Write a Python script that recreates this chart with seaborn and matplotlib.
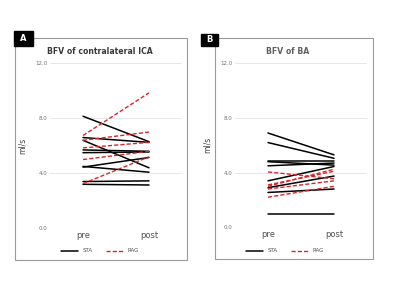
import numpy as np
import pandas as pd
import matplotlib
matplotlib.use("Agg")
import matplotlib.pyplot as plt
import seaborn as sns
from matplotlib.patches import Rectangle
from matplotlib.lines import Line2D

# ============================================================
# Donnees
# ============================================================
times = ["pre", "post"]
groups = ["STA", "RAG"]

# Panel A - BFV of contralateral ICA
a_sta_pre = [8.15, 6.6, 6.4, 5.7, 5.5, 4.5, 4.45, 3.4, 3.2]
a_sta_post = [6.3, 6.25, 4.4, 5.6, 5.55, 4.08, 5.15, 3.45, 3.15]
a_rag_pre = [6.75, 3.25, 6.4, 5.85, 5.0]
a_rag_post = [9.85, 5.2, 7.0, 6.25, 5.6]

# Panel B - BFV of BA
b_sta_pre = [6.9, 6.2, 4.85, 4.8, 4.5, 3.4, 2.9, 2.55, 1.0]
b_sta_post = [5.3, 5.05, 4.85, 4.55, 4.7, 4.45, 3.75, 2.8, 1.0]
b_rag_pre = [4.05, 3.0, 2.8, 2.2, 3.1]
b_rag_post = [3.55, 4.25, 3.4, 3.0, 4.1]

yticks = [0, 4, 8, 12]
ytick_labels = ["0.0", "4.0", "8.0", "12.0"]
titles = ["BFV of contralateral ICA", "BFV of BA"]
letters = ["A", "B"]

RED = "#d9262b"
palette = {"STA": "black", "RAG": RED}


def build_df(sta_pre, sta_post, rag_pre, rag_post):
    rows = []
    for g, pre, post in [("STA", sta_pre, sta_post), ("RAG", rag_pre, rag_post)]:
        for i, (v0, v1) in enumerate(zip(pre, post)):
            rows.append({"group": g, "subject": f"{g}{i}", "time": "pre", "value": v0})
            rows.append({"group": g, "subject": f"{g}{i}", "time": "post", "value": v1})
    return pd.DataFrame(rows)


dfs = [build_df(a_sta_pre, a_sta_post, a_rag_pre, a_rag_post),
       build_df(b_sta_pre, b_sta_post, b_rag_pre, b_rag_post)]

sns.set_style("white")
plt.rcParams['font.family'] = ['DejaVu Sans']

W, H = 400, 300
fig = plt.figure(figsize=(4, 3), dpi=100)


def fx(px):
    return px / W


def fy(py):
    return 1 - py / H


# positions en pixels: (gauche, droite, haut, bas)
axes_px = [(50, 182, 63.3, 228.3), (235, 367, 63.3, 227.3)]
frames_px = [(15, 187, 38, 260), (215, 373, 38, 259)]
letter_px = [(14, 33, 31, 46), (201, 218, 34, 46)]
title_x = [100, 288]
legend_x = [100, 285]

for k in range(2):
    l, r, t, b = axes_px[k]
    # cadre du panneau
    fl, fr, ft, fb = frames_px[k]
    fig.add_artist(Rectangle((fx(fl), fy(fb)), fx(fr - fl), (fb - ft) / H,
                             transform=fig.transFigure, fill=False,
                             edgecolor="#9a9a9a", linewidth=0.8))
    # etiquette A / B
    ll, lr, lt, lb = letter_px[k]
    fig.add_artist(Rectangle((fx(ll), fy(lb)), fx(lr - ll), (lb - lt) / H,
                             transform=fig.transFigure, facecolor="black",
                             edgecolor="black"))
    fig.text(fx((ll + lr) / 2), fy((lt + lb) / 2), letters[k], color="white",
             fontsize=6, fontweight="bold", ha="center", va="center")

    ax = fig.add_axes([fx(l), fy(b), fx(r - l), (b - t) / H])
    sns.lineplot(data=dfs[k], x="time", y="value", hue="group", style="group",
                 units="subject", estimator=None, palette=palette,
                 dashes={"STA": "", "RAG": (3, 1.5)}, ax=ax, legend=False,
                 sort=False)
    for line in ax.lines:
        if line.get_color() == "black":
            line.set_linewidth(1.1)
        else:
            line.set_linewidth(1.0)

    ax.set_xlim(-0.5, 1.5)
    ax.set_ylim(0, 12)
    ax.set_yticks(yticks)
    ax.set_yticklabels(ytick_labels, fontsize=4, color="#707070")
    ax.set_xticks([0, 1])
    ax.set_xticklabels(times, fontsize=6, color="#505050")
    ax.tick_params(axis="both", length=0, pad=2)
    ax.yaxis.grid(True, color="#e3e3e3", linewidth=0.6)
    ax.set_axisbelow(True)
    for s in ax.spines.values():
        s.set_visible(False)
    ax.set_xlabel("")
    ax.set_ylabel("ml/s", fontsize=5.5, color="#404040", labelpad=6)

    fig.text(fx(title_x[k]), fy(52), titles[k], fontsize=5.6,
             fontweight="bold" if k == 0 else "semibold",
             color="#3a3a3a" if k == 0 else "#606060",
             ha="center", va="center")

    handles = [Line2D([], [], color="black", linewidth=1.1),
               Line2D([], [], color=RED, linewidth=1.0, linestyle=(0, (3, 1.5)))]
    fig.legend(handles, groups, loc="center", ncol=2, frameon=False,
               bbox_to_anchor=(fx(legend_x[k]), fy(251)), fontsize=4,
               handlelength=3, columnspacing=2.5, handletextpad=0.8,
               labelcolor="#505050")

fig.savefig("out.png", dpi=100)
